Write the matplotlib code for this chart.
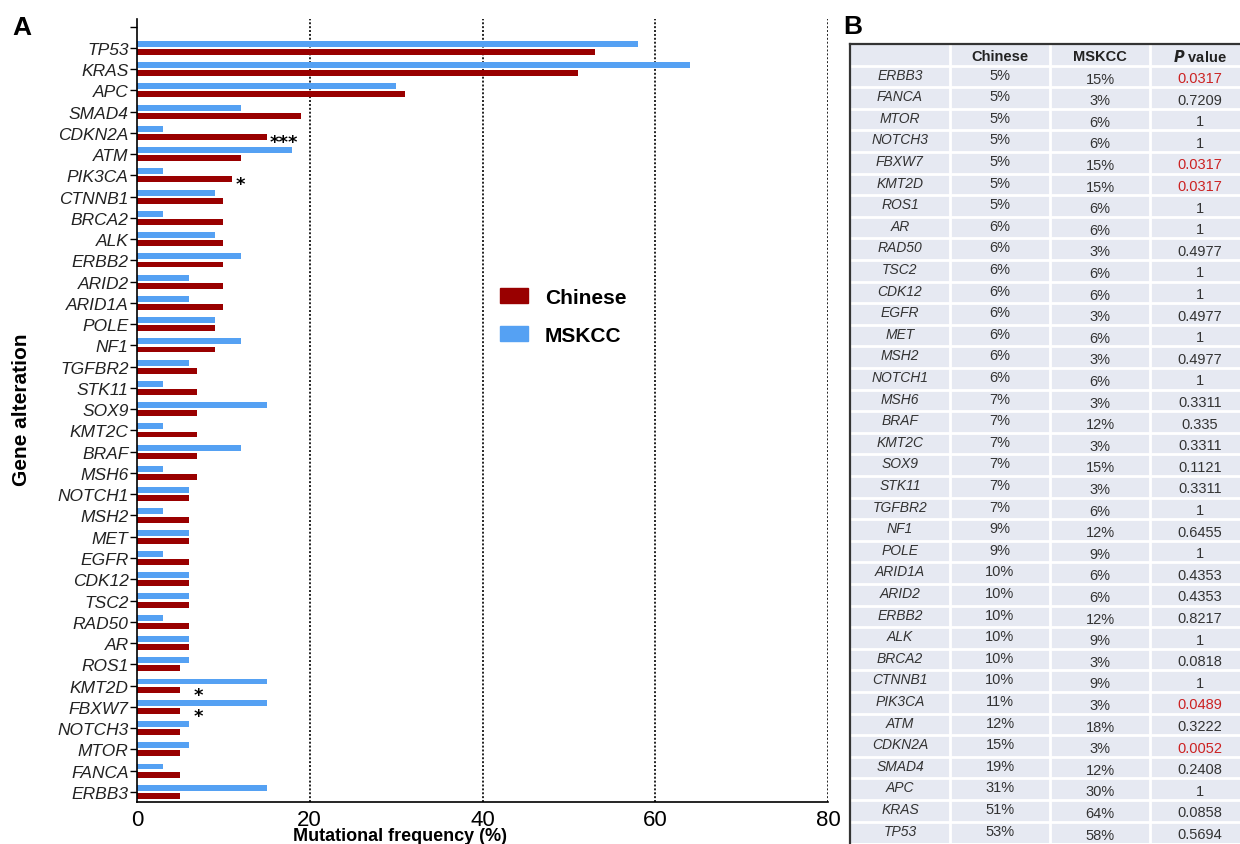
import numpy as np
import matplotlib
matplotlib.use('Agg')
from matplotlib import pyplot as plt
import matplotlib.patches as mpatches

plt.rcParams['font.family'] = ['Liberation Sans', 'DejaVu Sans']

# genes, top to bottom in panel A
genes = ['TP53', 'KRAS', 'APC', 'SMAD4', 'CDKN2A', 'ATM', 'PIK3CA', 'CTNNB1',
         'BRCA2', 'ALK', 'ERBB2', 'ARID2', 'ARID1A', 'POLE', 'NF1', 'TGFBR2',
         'STK11', 'SOX9', 'KMT2C', 'BRAF', 'MSH6', 'NOTCH1', 'MSH2', 'MET',
         'EGFR', 'CDK12', 'TSC2', 'RAD50', 'AR', 'ROS1', 'KMT2D', 'FBXW7',
         'NOTCH3', 'MTOR', 'FANCA', 'ERBB3']
chinese = [53, 51, 31, 19, 15, 12, 11, 10, 10, 10, 10, 10, 10, 9, 9, 7, 7, 7,
           7, 7, 7, 6, 6, 6, 6, 6, 6, 6, 6, 5, 5, 5, 5, 5, 5, 5]
mskcc = [58, 64, 30, 12, 3, 18, 3, 9, 3, 9, 12, 6, 6, 9, 12, 6, 3, 15, 3, 12,
         3, 6, 3, 6, 3, 6, 6, 3, 6, 6, 15, 15, 6, 6, 3, 15]
pvals = ['0.5694', '0.0858', '1', '0.2408', '0.0052', '0.3222', '0.0489', '1',
         '0.0818', '1', '0.8217', '0.4353', '0.4353', '1', '0.6455', '1',
         '0.3311', '0.1121', '0.3311', '0.335', '0.3311', '1', '0.4977', '1',
         '0.4977', '1', '1', '0.4977', '1', '1', '0.0317', '0.0317', '1', '1',
         '0.7209', '0.0317']
# significance marks on the bar chart
sig_genes = ['CDKN2A', 'PIK3CA', 'KMT2D', 'FBXW7']
sig_marks = ['***', '*', '*', '*']
xticks = [0, 20, 40, 60, 80]

red = '#990000'
blue = '#55a1f3'

W, H = 1240, 845
fig = plt.figure(figsize=(W / 100, H / 100), dpi=100)

# ---- panel A ----
ax = fig.add_axes([137 / W, 1 - 803 / H, (828 - 137) / W, (803 - 20) / H])
y = np.arange(len(genes))
ax.barh(y - 0.19, mskcc, height=0.28, color=blue, label='MSKCC')
ax.barh(y + 0.19, chinese, height=0.28, color=red, label='Chinese')

for gx in xticks[1:]:
    ax.axvline(gx, color='#222222', lw=1.4, ls=(0, (1, 1)), zorder=0)

ax.set_xlim(0, 80)
ax.set_ylim(len(genes) - 0.52, -1.36)
ax.set_yticks(np.r_[-1, y])
ax.set_yticklabels([''] + genes, fontsize=12.5, style='italic', color='#222222')
ax.set_xticks(xticks)
ax.set_xticklabels([str(t) for t in xticks], fontsize=16)
ax.tick_params(axis='y', length=5, width=1, pad=1)
ax.tick_params(axis='x', length=0, pad=5)
for s in ['top', 'right']:
    ax.spines[s].set_visible(False)
for s in ['left', 'bottom']:
    ax.spines[s].set_linewidth(1.2)

# stars: DejaVu's asterisk is large for its line height, so neighbours don't collide
for g, m in zip(sig_genes, sig_marks):
    i = genes.index(g)
    dx = 0.4 if chinese[i] > 8 else 1.5
    ax.text(chinese[i] + dx, i + 0.66, m, fontsize=13, fontweight='bold',
            family='DejaVu Sans', ha='left', va='baseline')

handles = [mpatches.Patch(color=red, label='Chinese'),
           mpatches.Patch(color=blue, label='MSKCC')]
fig.legend(handles=handles, loc='upper left', bbox_to_anchor=(500 / W, 1 - 289 / H),
           frameon=False, prop={'size': 15, 'weight': 'bold'}, handlelength=1.35,
           handleheight=0.75, handletextpad=0.8, labelspacing=0.9,
           borderpad=0, borderaxespad=0)

fig.text(22 / W, 1 - 410 / H, 'Gene alteration', rotation=90, fontsize=15,
         fontweight='bold', ha='center', va='center')
fig.text(400 / W, 1 - 837 / H, 'Mutational frequency (%)', fontsize=13,
         fontweight='bold', ha='center', va='center')
fig.text(22 / W, 1 - 28 / H, 'A', fontsize=19, fontweight='bold', ha='center', va='center')
fig.text(853 / W, 1 - 27 / H, 'B', fontsize=19, fontweight='bold', ha='center', va='center')

# ---- panel B: table (rows in reverse order of panel A) ----
row_h = 21.6
n_rows = len(genes) + 1
tb = fig.add_axes([850 / W, 1 - (45 + n_rows * row_h) / H, 400 / W, n_rows * row_h / H])
tb.set_xlim(0, 4)
tb.set_ylim(n_rows, 0)
tb.set_facecolor('#e6e9f2')
tb.set_xticks([])
tb.set_yticks([])
for s in ['bottom', 'right']:
    tb.spines[s].set_visible(False)
for s in ['top', 'left']:
    tb.spines[s].set_color('#333333')
    tb.spines[s].set_linewidth(1.6)
tb.hlines(np.arange(1, n_rows), 0, 4, color='white', lw=2)
tb.vlines([1, 2, 3], 0, n_rows, color='white', lw=2)

txt = '#333333'
tb.text(1.5, 0.55, 'Chinese', ha='center', va='center', fontsize=10.5, fontweight='bold', color='#222222')
tb.text(2.5, 0.55, 'MSKCC', ha='center', va='center', fontsize=10.5, fontweight='bold', color='#222222')
tb.text(3.5, 0.55, r'$\bfit{P}$' + ' value', ha='center', va='center', fontsize=10.5,
        fontweight='bold', color='#222222')

order = list(range(len(genes)))[::-1]
for r, i in enumerate(order, start=1):
    tb.text(0.5, r + 0.42, genes[i], ha='center', va='center', fontsize=10,
            style='italic', color=txt)
    tb.text(1.5, r + 0.42, f'{chinese[i]}%', ha='center', va='center', fontsize=10.5, color=txt)
    tb.text(2.5, r + 0.6, f'{mskcc[i]}%', ha='center', va='center', fontsize=10.5, color=txt)
    pc = '#cc2222' if float(pvals[i]) < 0.05 else txt
    tb.text(3.5, r + 0.57, pvals[i], ha='center', va='center', fontsize=10.5, color=pc)

plt.savefig('out.png', dpi=100)
